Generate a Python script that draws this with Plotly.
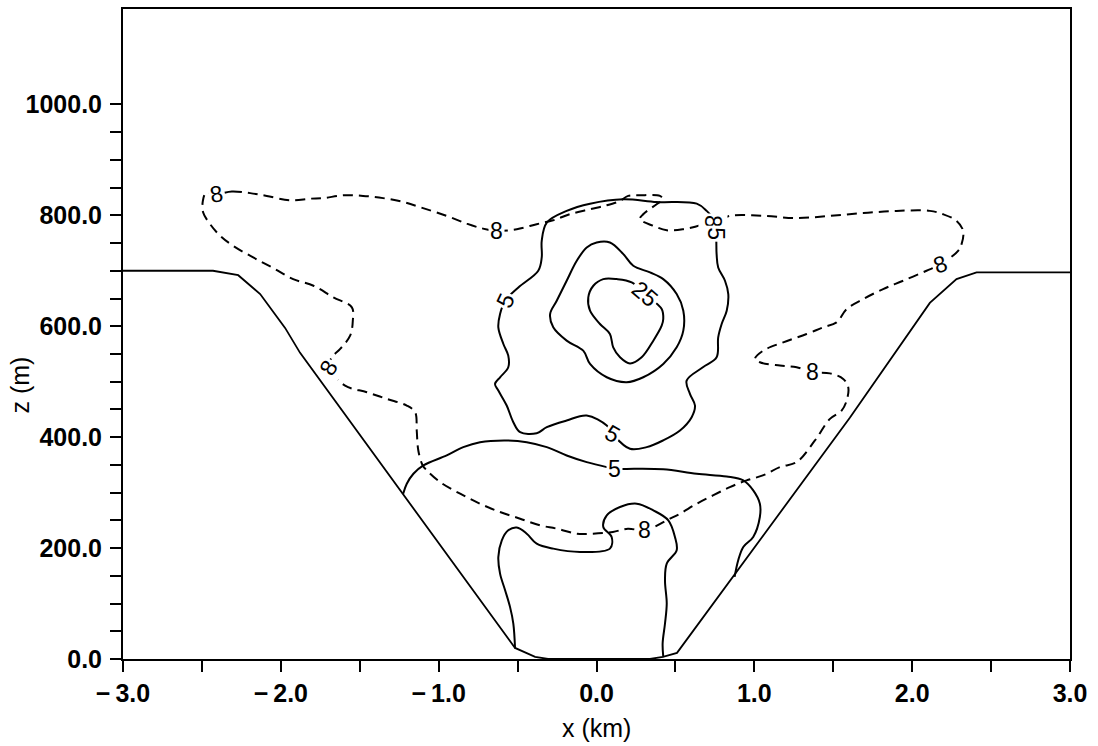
import plotly.graph_objects as go

# ---------------- data (x in km, z in m) ----------------
terrain_x = [-3.0, -2.43, -2.27, -2.131, -1.973, -1.878, -0.516, -0.389, -0.307,
             0.339, 0.421, 0.510, 1.605, 2.112, 2.281, 2.408, 3.0]
terrain_z = [700, 700, 692, 658, 597, 552, 20, 4, 0,
             0, 4, 11, 435, 642, 685, 697, 697]

# dashed contour, value 8
c8d_x = [-2.41, -2.31, -2.194, -2.089, -1.941, -1.814, -1.732, -1.605, -1.479, -1.352,
         -1.225, -1.099, -0.949, -0.822, -0.719, -0.632, -0.505, -0.379, -0.275, -0.168,
         -0.041, 0.065, 0.149, 0.201, 0.275, 0.402, 0.421, 0.381, 0.296, 0.275,
         0.360, 0.445, 0.550, 0.655, 0.708, 0.738, 0.845, 1.056, 1.268, 1.479,
         1.690, 1.901, 2.112, 2.196, 2.281, 2.323, 2.313, 2.291, 2.182, 2.091,
         1.943, 1.816, 1.690, 1.585, 1.521, 1.436, 1.331, 1.183, 1.056, 1.004,
         1.035, 1.162, 1.268, 1.369, 1.479, 1.563, 1.595, 1.585, 1.553, 1.479,
         1.384, 1.268, 1.162, 1.054, 0.951, 0.845, 0.738, 0.635, 0.529, 0.465,
         0.307, 0.199, 0.104, -0.022, -0.125, -0.252, -0.358, -0.484, -0.611, -0.738,
         -0.864, -0.991, -1.075, -1.101, -1.129, -1.139, -1.149, -1.202, -1.329, -1.455,
         -1.593, -1.700, -1.677, -1.624, -1.561, -1.544, -1.550, -1.667, -1.793, -1.922,
         -2.049, -2.175, -2.302, -2.384, -2.448, -2.492, -2.494, -2.473, -2.41]
c8d_z = [838, 843, 840, 835, 827, 830, 831, 836, 835, 831,
         824, 813, 799, 785, 776, 772, 775, 784, 791, 802,
         811, 818, 826, 835, 836, 835, 829, 820, 802, 793,
         781, 773, 775, 782, 790, 788, 799, 799, 795, 799,
         804, 808, 808, 802, 790, 772, 748, 736, 712, 700,
         682, 667, 649, 631, 607, 598, 586, 571, 556, 541,
         535, 529, 526, 517, 515, 505, 490, 466, 448, 433,
         394, 355, 346, 331, 322, 310, 295, 280, 262, 253,
         232, 235, 229, 226, 226, 235, 241, 253, 265, 280,
         298, 319, 340, 349, 376, 412, 445, 457, 469, 481,
         493, 525, 544, 559, 583, 610, 634, 652, 673, 685,
         705, 724, 745, 763, 784, 805, 826, 841, 838]

# solid contour, value 5 (upper)
c5a_x = [-0.579, -0.495, -0.369, -0.347, -0.347, -0.315, -0.189, -0.041, 0.170, 0.381,
         0.635, 0.698, 0.740, 0.757, 0.761, 0.771, 0.814, 0.835, 0.825, 0.793,
         0.771, 0.761, 0.674, 0.571, 0.592, 0.624, 0.603, 0.529, 0.421, 0.318,
         0.212, 0.104, 0.065, -0.062, -0.189, -0.315, -0.379, -0.484, -0.527, -0.569,
         -0.622, -0.643, -0.611, -0.559, -0.559, -0.590, -0.622, -0.611, -0.579]
c5a_z = [646, 670, 700, 724, 754, 787, 808, 821, 829, 824,
         821, 808, 793, 766, 730, 706, 682, 658, 628, 604,
         580, 544, 526, 502, 478, 457, 436, 412, 394, 382,
         379, 405, 421, 439, 430, 418, 407, 409, 427, 457,
         484, 496, 508, 526, 547, 568, 598, 622, 646]

# solid contour, unlabeled (inner)
c15_x = [0.001, 0.085, 0.170, 0.233, 0.339, 0.423, 0.508, 0.550, 0.550, 0.508,
         0.423, 0.296, 0.191, 0.065, -0.041, -0.084, -0.189, -0.274, -0.294, -0.252,
         -0.189, -0.125, -0.062, 0.001]
c15_z = [751, 751, 730, 709, 697, 685, 658, 628, 592, 562,
         532, 508, 499, 508, 532, 556, 574, 598, 622, 646,
         682, 718, 742, 751]

# solid contour, value 25
c25_x = [0.307, 0.413, 0.423, 0.413, 0.360, 0.286, 0.212, 0.149, 0.106, 0.085,
         0.022, -0.041, -0.052, -0.020, 0.043, 0.128, 0.223, 0.307]
c25_z = [658, 631, 613, 601, 574, 544, 533, 544, 562, 586,
         604, 628, 652, 673, 685, 685, 679, 658]

# solid contour, value 5 (lower bowl)
c5b_x = [-1.225, -1.202, -1.160, -1.097, -0.949, -0.844, -0.738, -0.569, -0.442, -0.315,
         -0.189, -0.062, 0.065, 0.117, 0.244, 0.423, 0.635, 0.825, 0.930, 0.993,
         1.035, 1.035, 0.993, 0.930, 0.898, 0.875]
c5b_z = [298, 316, 334, 349, 367, 382, 391, 394, 391, 382,
         367, 355, 346, 343, 343, 342, 334, 329, 322, 304,
         280, 256, 220, 202, 178, 148]

# solid contour, value 8 (valley bottom)
c8s_x = [-0.516, -0.527, -0.548, -0.579, -0.611, -0.622, -0.600, -0.559, -0.505, -0.442,
         -0.379, -0.274, -0.104, 0.085, 0.096, 0.043, 0.065, 0.149, 0.255, 0.360,
         0.455, 0.497, 0.508, 0.445, 0.434, 0.445, 0.434, 0.419, 0.423]
c8s_z = [19, 64, 94, 124, 154, 184, 214, 232, 237, 226,
         208, 199, 193, 199, 220, 238, 259, 274, 280, 268,
         250, 220, 196, 172, 142, 100, 64, 28, 4]

# contour labels
label_text = ["8", "8", "8", "5", "8", "8", "8", "8", "5", "5", "5", "25"]
label_x = [-2.41, -0.632, 0.738, 0.757, 2.182, 1.369, 0.307, -1.700, -0.579, 0.104, 0.117, 0.307]
label_z = [838, 772, 788, 766, 712, 517, 232, 525, 646, 405, 343, 658]
label_angle = [-10, 0, 90, 90, -20, 0, 0, -60, -65, 30, 0, 40]

x_ticks = [-3, -2, -1, 0, 1, 2, 3]
x_ticktext = ["\u2212\u20093.0", "\u2212\u20092.0", "\u2212\u20091.0", "0.0", "1.0", "2.0", "3.0"]
x_minor = [-2.5, -1.5, -0.5, 0.5, 1.5, 2.5]
z_ticks = [0, 200, 400, 600, 800, 1000]
z_ticktext = ["0.0", "200.0", "400.0", "600.0", "800.0", "1000.0"]
z_minor = [50, 100, 150, 250, 300, 350, 450, 500, 550, 650, 700, 750, 850, 900, 950]

FONT = "Liberation Sans"
fig = go.Figure()

solid = dict(color="black", width=2)
dashed = dict(color="black", width=2, dash="10px,6px")

fig.add_trace(go.Scatter(x=terrain_x, y=terrain_z, mode="lines", line=dict(color="black", width=1.8)))
fig.add_trace(go.Scatter(x=c8d_x, y=c8d_z, mode="lines", line=dashed, line_shape="spline"))
fig.add_trace(go.Scatter(x=c5a_x, y=c5a_z, mode="lines", line=solid, line_shape="spline"))
fig.add_trace(go.Scatter(x=c15_x, y=c15_z, mode="lines", line=solid, line_shape="spline"))
fig.add_trace(go.Scatter(x=c25_x, y=c25_z, mode="lines", line=solid, line_shape="spline"))
fig.add_trace(go.Scatter(x=c5b_x, y=c5b_z, mode="lines", line=solid, line_shape="spline"))
fig.add_trace(go.Scatter(x=c8s_x, y=c8s_z, mode="lines", line=solid, line_shape="spline"))

for t, lx, lz, a in zip(label_text, label_x, label_z, label_angle):
    fig.add_annotation(x=lx, y=lz, xref="x", yref="y", text=t, showarrow=False,
                       textangle=a, bgcolor="white", borderpad=1,
                       font=dict(family=FONT, size=23, color="black"))

fig.add_annotation(x=-0.109, y=0.422, xref="paper", yref="paper", text="z (m)",
                   showarrow=False, textangle=-90, xanchor="center", yanchor="middle",
                   font=dict(family=FONT, size=25, color="black"))
fig.add_annotation(x=0.4995, y=-0.106, xref="paper", yref="paper", text="x (km)",
                   showarrow=False, xanchor="center", yanchor="middle",
                   font=dict(family=FONT, size=25, color="black"))

tick_common = dict(ticks="outside", ticklen=11, tickwidth=2, tickcolor="black",
                   showline=True, linewidth=2, linecolor="black", mirror=True,
                   showgrid=False, zeroline=False,
                   tickfont=dict(family=FONT, size=25, color="black", weight="bold"))

fig.update_xaxes(range=[-3, 3], tickmode="array", tickvals=x_ticks, ticktext=x_ticktext,
                 minor=dict(tickmode="array", tickvals=x_minor, ticks="outside", ticklen=11,
                            tickwidth=2, tickcolor="black", showgrid=False),
                 **tick_common)
fig.update_yaxes(range=[0, 1172], tickmode="array", tickvals=z_ticks, ticktext=z_ticktext,
                 ticklabelstandoff=3,
                 minor=dict(tickmode="array", tickvals=z_minor, ticks="outside", ticklen=11,
                            tickwidth=2, tickcolor="black", showgrid=False),
                 **tick_common)

fig.update_layout(width=1098, height=746, showlegend=False,
                  margin=dict(l=123, r=28, t=7, b=87),
                  plot_bgcolor="white", paper_bgcolor="white")

# the page's default body margin would shift the figure; remove it
fig.write_html("out.html", config={"displayModeBar": False},
               post_script="document.body.style.margin='0';document.body.style.overflow='hidden';")
